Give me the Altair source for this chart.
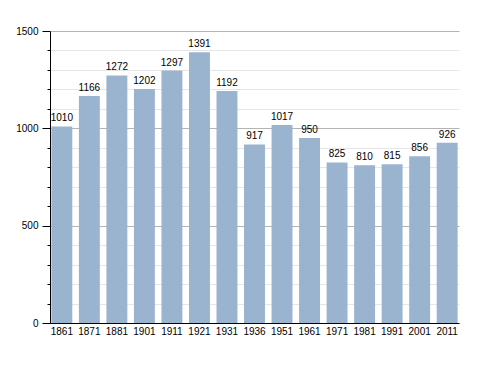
import altair as alt
import pandas as pd

years = ["1861", "1871", "1881", "1901", "1911", "1921", "1931", "1936",
         "1951", "1961", "1971", "1981", "1991", "2001", "2011"]
population = [1010, 1166, 1272, 1202, 1297, 1391, 1192, 917,
              1017, 950, 825, 810, 815, 856, 926]
y_ticks = list(range(0, 1501, 100))

df = pd.DataFrame({"year": years, "pop": population})

FONT = "Liberation Sans"
BAR = "#9ab3cf"

x_enc = alt.X("year:N", sort=years, title=None,
              scale=alt.Scale(paddingInner=0.24, paddingOuter=0.05),
              axis=alt.Axis(labelAngle=0, ticks=False, domainColor="#000000",
                            labelFont=FONT, labelFontSize=10, labelColor="#000000",
                            labelPadding=3))
y_enc = alt.Y("pop:Q", title=None,
              scale=alt.Scale(domain=[0, 1500], nice=False),
              axis=alt.Axis(values=y_ticks, tickCount=40, format="d",
                            labelExpr="datum.value % 500 === 0 ? datum.label : ''",
                            labelOverlap=False,
                            grid=True,
                            gridColor={"condition": {"test": "datum.value % 500 === 0", "value": "#b4b4b4"},
                                       "value": "#e6e6e6"},
                            tickSize={"condition": {"test": "datum.value % 500 === 0", "value": 8},
                                      "value": 3},
                            tickColor="#000000", domainColor="#000000",
                            labelFont=FONT, labelFontSize=10, labelColor="#000000",
                            labelPadding=4))

bars = alt.Chart(df).mark_bar(color=BAR).encode(x=x_enc, y=y_enc)
labels = alt.Chart(df).mark_text(baseline="bottom", dy=-3, font=FONT,
                                 fontSize=10, color="#000000").encode(
    x=alt.X("year:N", sort=years), y=alt.Y("pop:Q"), text=alt.Text("pop:Q", format="d"))

chart = alt.layer(bars, labels).properties(
    width=409, height=292,
    autosize=alt.AutoSizeParams(type="none"),
    padding={"left": 42, "top": 23, "right": 20, "bottom": 24},
    background="#ffffff",
).configure_view(strokeWidth=0)

chart.save("out.html", embed_options={"renderer": "svg", "actions": False})
